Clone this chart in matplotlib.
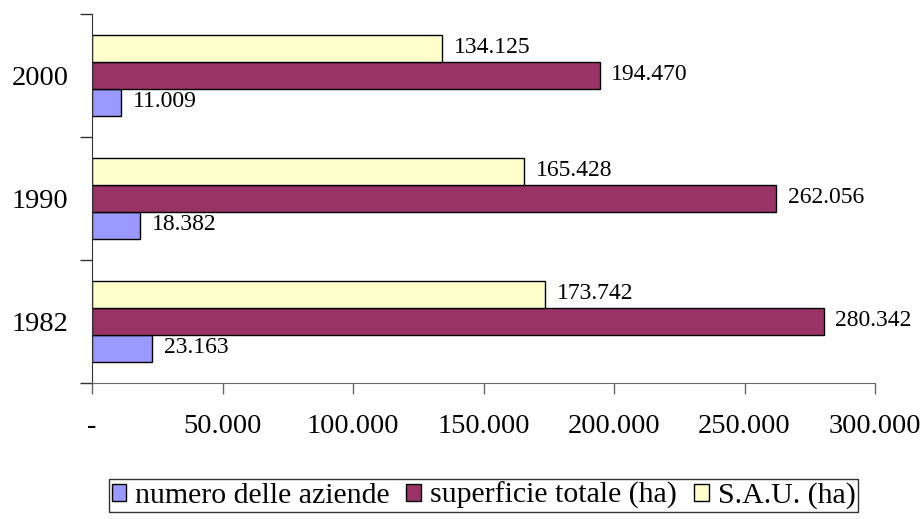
import matplotlib
matplotlib.use("Agg")
import matplotlib.pyplot as plt
import numpy as np

plt.rcParams['font.family'] = ['Liberation Serif', 'DejaVu Serif']

anni = ['1982', '1990', '2000']
serie = ['numero delle aziende', 'superficie totale (ha)', 'S.A.U. (ha)']
aziende = [23163, 18382, 11009]
superficie = [280342, 262056, 194470]
sau = [173742, 165428, 134125]
colori = ['#9999FF', '#993366', '#FFFFCC']
x_ticks = [0, 50000, 100000, 150000, 200000, 250000, 300000]
x_tick_labels = ['-', '50.000', '100.000', '150.000', '200.000', '250.000', '300.000']


def fmt(v):  # separatore delle migliaia all'italiana
    return f"{v:,}".replace(',', '.')


fig = plt.figure(figsize=(9.23, 5.19), dpi=100)
ax = fig.add_axes([92 / 923, 136 / 519, 783 / 923, 369 / 519])

y = np.arange(len(anni))
h = 0.22
valori = [aziende, superficie, sau]
offset = [-h, 0, h]
for i in range(3):
    bars = ax.barh(y + offset[i], valori[i], height=h, color=colori[i],
                   edgecolor='black', linewidth=1.0, label=serie[i])
    for b, v in zip(bars, valori[i]):
        ax.text(b.get_width() + 4500, b.get_y() + b.get_height() / 2 + 0.01, fmt(v),
                va='center', ha='left', fontsize=17)

ax.set_xlim(0, 300000)
ax.set_ylim(-0.5, 2.5)

ax.set_xticks(x_ticks)
ax.set_xticklabels(x_tick_labels, fontsize=20.5)
ax.tick_params(axis='x', length=8, width=1, color='#666666', pad=14)

ax.set_yticks([-0.5, 0.5, 1.5, 2.5])
ax.set_yticklabels([])
ax.tick_params(axis='y', which='major', length=9, width=1, color='#333333')
ax.set_yticks(y, minor=True)
ax.set_yticklabels(anni, minor=True, fontsize=20.5)
ax.tick_params(axis='y', which='minor', length=0, pad=17)

for s in ['top', 'right']:
    ax.spines[s].set_visible(False)
ax.spines['bottom'].set_color('#666666')
ax.spines['left'].set_color('#333333')

leg = ax.legend(loc='center', bbox_to_anchor=(0.5, -0.305), ncol=3,
                fontsize=21.5, frameon=True, fancybox=False, edgecolor='black',
                handlelength=0.5, handleheight=0.5, handletextpad=0.3,
                columnspacing=0.55, borderpad=0.1, borderaxespad=0)
leg.get_frame().set_linewidth(1.0)

fig.savefig('out.png', dpi=100)
